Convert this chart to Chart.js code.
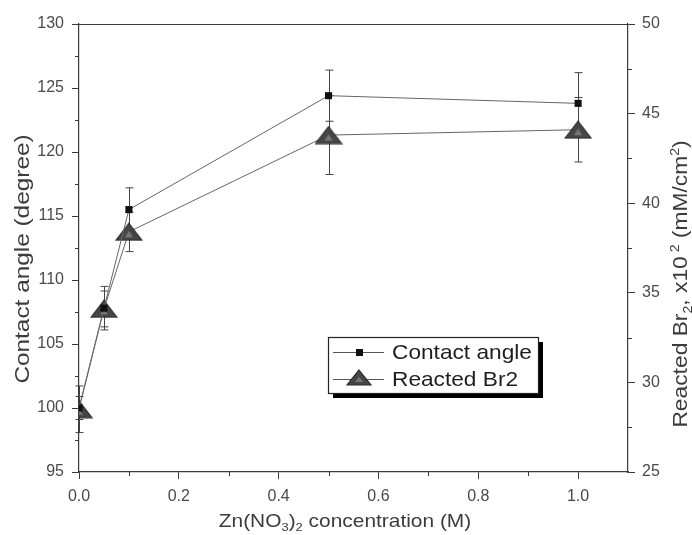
<!DOCTYPE html>
<html>
<head>
<meta charset="utf-8">
<title>Contact angle and reacted Br2 vs Zn(NO3)2 concentration</title>
<script src="https://cdn.jsdelivr.net/npm/chart.js@4.4.1/dist/chart.umd.min.js"></script>
<style>
    html, body { margin: 0; padding: 0; background: #fff; }
    #wrap { width: 692px; height: 535px; position: relative; }
</style>
</head>
<body>
<div id="wrap"><canvas id="chart"></canvas></div>
<script>
// Zn(NO3)2 concentration (M)
const concentration = [0, 0.05, 0.1, 0.5, 1.0];

// Contact angle (degree), left axis
const contactAngle = [100.0, 107.8, 115.5, 124.4, 123.8];
const contactAngleErr = [0.9, 1.7, 1.7, 2.0, 2.4];

// Reacted Br2 x10^-2 (mM/cm2), right axis
const reactedBr = [28.5, 34.1, 38.4, 43.8, 44.1];
const reactedBrErr = [1.3, 1.0, 1.1, 2.2, 1.8];

// tick positions
const xTicks = [0, 0.2, 0.4, 0.6, 0.8, 1.0];
const xMinor = [0.1, 0.3, 0.5, 0.7, 0.9];
const leftTicks = [95, 100, 105, 110, 115, 120, 125, 130];
const leftMinor = [97.5, 102.5, 107.5, 112.5, 117.5, 122.5, 127.5];
const rightTicks = [25, 30, 35, 40, 45, 50];
const rightMinor = [27.5, 32.5, 37.5, 42.5, 47.5];

const AXIS = '#3a3a3a';
const TEXT = '#3c3c3c';
const TICK_TEXT = '#4a4a4a';
const FONT = '"Liberation Sans", Arial, sans-serif';

// flattened triangle marker used for the Br2 series
function makeTriangle(w, h) {
    const c = document.createElement('canvas');
    c.width = w;
    c.height = h;
    const g = c.getContext('2d');
    g.beginPath();
    g.moveTo(w / 2, 1);
    g.lineTo(w - 1, h - 1);
    g.lineTo(1, h - 1);
    g.closePath();
    g.fillStyle = '#464646';
    g.fill();
    g.strokeStyle = '#2a2a2a';
    g.lineWidth = 1.2;
    g.stroke();
    g.beginPath();
    g.moveTo(w / 2, h * 0.45);
    g.lineTo(w / 2 + 4, h - 4);
    g.lineTo(w / 2 - 4, h - 4);
    g.closePath();
    g.fillStyle = '#767676';
    g.fill();
    return c;
}
const triMarker = makeTriangle(28, 19);
const triLegend = makeTriangle(26, 17);

function toPoints(xs, ys) {
    return xs.map((x, i) => ({ x: x, y: ys[i] }));
}

// text with sub/superscript pieces, centred on (x, y)
function drawRich(ctx, segs, x, y, rot, size, stretch) {
    ctx.save();
    ctx.translate(x, y);
    ctx.rotate(rot);
    ctx.scale(stretch, 1);
    let total = 0;
    segs.forEach(s => {
        const fs = s.sub || s.sup ? size * 0.62 : size;
        ctx.font = fs + 'px ' + FONT;
        s.w = ctx.measureText(s.t).width;
        s.fs = fs;
        total += s.w;
    });
    let cx = -total / 2;
    ctx.fillStyle = TEXT;
    ctx.textBaseline = 'alphabetic';
    ctx.textAlign = 'left';
    segs.forEach(s => {
        ctx.font = s.fs + 'px ' + FONT;
        let dy = size * 0.36;
        if (s.sub) dy += size * 0.22;
        if (s.sup) dy -= size * 0.42;
        ctx.fillText(s.t, cx, dy);
        cx += s.w;
    });
    ctx.restore();
}

// error bars, minor ticks, frame, titles and legend
const decorations = {
    id: 'decorations',
    beforeDatasetsDraw(chart) {
        const ctx = chart.ctx;
        const xs = chart.scales.x;
        ctx.save();
        ctx.strokeStyle = '#444';
        ctx.lineWidth = 1;
        chart.data.datasets.forEach(ds => {
            const ys = chart.scales[ds.yAxisID];
            ds.data.forEach((p, i) => {
                const px = Math.round(xs.getPixelForValue(p.x)) + 0.5;
                const top = ys.getPixelForValue(p.y + ds.err[i]);
                const bot = ys.getPixelForValue(p.y - ds.err[i]);
                ctx.beginPath();
                ctx.moveTo(px, top);
                ctx.lineTo(px, bot);
                ctx.moveTo(px - 4, top);
                ctx.lineTo(px + 4, top);
                ctx.moveTo(px - 4, bot);
                ctx.lineTo(px + 4, bot);
                ctx.stroke();
            });
        });
        ctx.restore();
    },
    afterDraw(chart) {
        const ctx = chart.ctx;
        const a = chart.chartArea;
        const xs = chart.scales.x;
        const yl = chart.scales.yLeft;
        const yr = chart.scales.yRight;
        ctx.save();
        ctx.strokeStyle = AXIS;
        ctx.lineWidth = 1.2;
        // top frame line
        ctx.beginPath();
        ctx.moveTo(a.left, a.top + 0.5);
        ctx.lineTo(a.right, a.top + 0.5);
        ctx.stroke();
        // minor ticks
        ctx.lineWidth = 1;
        ctx.beginPath();
        xMinor.forEach(v => {
            const px = Math.round(xs.getPixelForValue(v)) + 0.5;
            ctx.moveTo(px, a.bottom);
            ctx.lineTo(px, a.bottom + 4);
        });
        leftMinor.forEach(v => {
            const py = Math.round(yl.getPixelForValue(v)) + 0.5;
            ctx.moveTo(a.left, py);
            ctx.lineTo(a.left - 4, py);
        });
        rightMinor.forEach(v => {
            const py = Math.round(yr.getPixelForValue(v)) + 0.5;
            ctx.moveTo(a.right, py);
            ctx.lineTo(a.right + 4, py);
        });
        ctx.stroke();
        ctx.restore();

        // axis titles
        drawRich(ctx, [{ t: 'Contact angle (degree)' }], 21, 259, -Math.PI / 2, 21, 1.16);
        drawRich(ctx, [
            { t: 'Reacted Br' }, { t: '2', sub: true }, { t: ', x10' }, { t: ' 2', sup: true },
            { t: ' (mM/cm' }, { t: '2', sup: true }, { t: ')' }
        ], 680, 284, -Math.PI / 2, 20, 1.14);
        drawRich(ctx, [
            { t: 'Zn(NO' }, { t: '3', sub: true }, { t: ')' }, { t: '2', sub: true },
            { t: ' concentration (M)' }
        ], 345, 520, 0, 19, 1.1);

        // legend box with drop shadow
        const lx = 328, ly = 337, lw = 210, lh = 56;
        ctx.save();
        ctx.fillStyle = '#000';
        ctx.fillRect(lx + 5, ly + 5, lw, lh);
        ctx.fillStyle = '#fff';
        ctx.fillRect(lx, ly, lw, lh);
        ctx.strokeStyle = '#222';
        ctx.lineWidth = 1.2;
        ctx.strokeRect(lx + 0.5, ly + 0.5, lw, lh);
        const rows = [ly + 15, ly + 42];
        ctx.strokeStyle = '#555';
        ctx.lineWidth = 1;
        rows.forEach(ry => {
            ctx.beginPath();
            ctx.moveTo(lx + 5, ry + 0.5);
            ctx.lineTo(lx + 56, ry + 0.5);
            ctx.stroke();
        });
        ctx.fillStyle = '#111';
        ctx.fillRect(lx + 28, rows[0] - 3, 7, 7);
        ctx.drawImage(triLegend, lx + 31 - 13, rows[1] - 10);
        ctx.fillStyle = '#1e1e1e';
        ctx.font = '21px ' + FONT;
        ctx.textBaseline = 'middle';
        ctx.save();
        ctx.translate(lx + 64, 0);
        ctx.scale(1.08, 1);
        ctx.fillText('Contact angle', 0, rows[0] + 1);
        ctx.fillText('Reacted Br2', 0, rows[1] + 1);
        ctx.restore();
        ctx.restore();
    }
};

function fixTicks(values) {
    return function(scale) {
        scale.ticks = values.map(v => ({ value: v }));
    };
}

const tickFont = { family: FONT, size: 16 };

new Chart(document.getElementById('chart'), {
    type: 'line',
    data: {
        datasets: [
            {
                label: 'Contact angle',
                data: toPoints(concentration, contactAngle),
                err: contactAngleErr,
                yAxisID: 'yLeft',
                borderColor: '#666',
                borderWidth: 1,
                pointStyle: 'rect',
                pointRadius: 5,
                pointBackgroundColor: '#111',
                pointBorderColor: '#111',
                pointBorderWidth: 0,
                tension: 0
            },
            {
                label: 'Reacted Br2',
                data: toPoints(concentration, reactedBr),
                err: reactedBrErr,
                yAxisID: 'yRight',
                borderColor: '#666',
                borderWidth: 1,
                pointStyle: triMarker,
                tension: 0
            }
        ]
    },
    options: {
        responsive: true,
        maintainAspectRatio: false,
        animation: false,
        layout: { padding: { top: 24, left: 0, right: 0, bottom: 0 } },
        plugins: {
            legend: { display: false },
            tooltip: { enabled: false }
        },
        scales: {
            x: {
                type: 'linear',
                min: 0,
                max: 1.1,
                afterBuildTicks: fixTicks(xTicks),
                afterFit(scale) { scale.height = 63; },
                grid: { drawOnChartArea: false, tickLength: 7, color: AXIS },
                border: { color: AXIS, width: 1.2 },
                ticks: {
                    color: TICK_TEXT,
                    font: tickFont,
                    padding: 8,
                    maxRotation: 0,
                    callback: v => v.toFixed(1)
                }
            },
            yLeft: {
                type: 'linear',
                position: 'left',
                min: 95,
                max: 130,
                afterBuildTicks: fixTicks(leftTicks),
                afterFit(scale) { scale.width = 79; },
                grid: { drawOnChartArea: false, tickLength: 7, color: AXIS },
                border: { color: AXIS, width: 1.2 },
                ticks: { color: TICK_TEXT, font: tickFont, padding: 8 }
            },
            yRight: {
                type: 'linear',
                position: 'right',
                min: 25,
                max: 50,
                afterBuildTicks: fixTicks(rightTicks),
                afterFit(scale) { scale.width = 64; },
                grid: { drawOnChartArea: false, tickLength: 7, color: AXIS },
                border: { color: AXIS, width: 1.2 },
                ticks: { color: TICK_TEXT, font: tickFont, padding: 7 }
            }
        }
    },
    plugins: [decorations]
});
</script>
</body>
</html>
